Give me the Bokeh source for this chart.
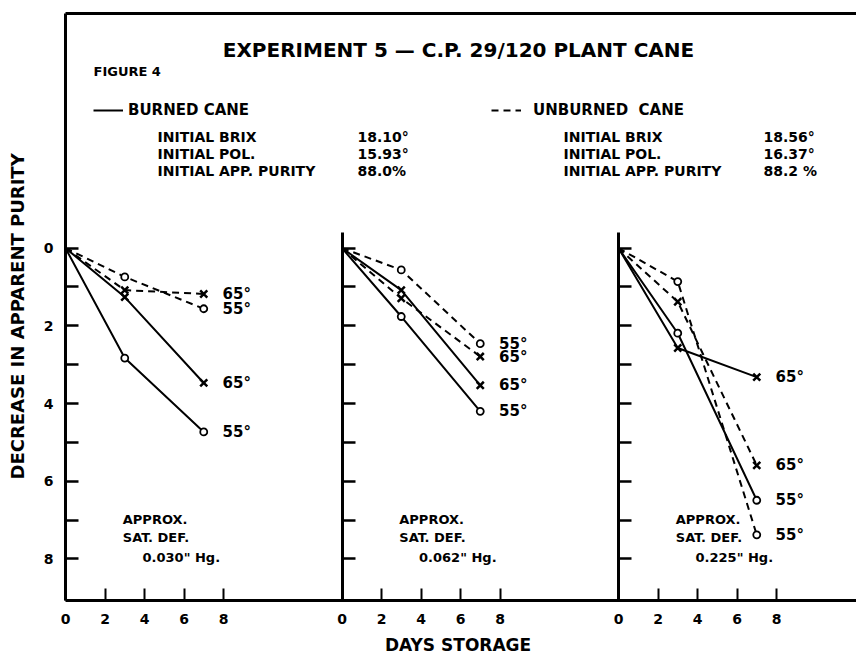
from bokeh.plotting import figure
from bokeh.models import Range1d, LinearAxis, FixedTicker, Legend, LegendItem
from bokeh.core.properties import value
from bokeh.embed import file_html
from bokeh.resources import INLINE

# ---------------- data ----------------
DAYS = [0, 3, 7]
PANEL_SPAN = 14                      # days between panel origins on the shared x scale
X_TICKS = [0, 2, 4, 6, 8]
Y_MAJOR = [0, 2, 4, 6, 8]
Y_MINOR = [1, 3, 5, 7]

# decrease in apparent purity, one list per panel (0.030, 0.062, 0.225 in Hg)
BURNED_55 = [[0, 2.83, 4.73], [0, 1.76, 4.20], [0, 2.19, 6.49]]
BURNED_65 = [[0, 1.26, 3.47], [0, 1.08, 3.53], [0, 2.57, 3.32]]
UNBURNED_55 = [[0, 0.74, 1.56], [0, 0.56, 2.46], [0, 0.86, 7.38]]
UNBURNED_65 = [[0, 1.08, 1.18], [0, 1.29, 2.79], [0, 1.38, 5.59]]
SAT_DEF = ['0.030" Hg.', '0.062" Hg.', '0.225" Hg.']

TITLE = "EXPERIMENT 5 — C.P. 29/120 PLANT CANE"
FIG_LABEL = "FIGURE 4"
INIT_NAMES = ["INITIAL  BRIX", "INITIAL  POL.", "INITIAL  APP. PURITY"]
BURNED_INIT = ["18.10°", "15.93°", "88.0%"]
UNBURNED_INIT = ["18.56°", "16.37°", "88.2 %"]

# ---------------- layout ----------------
FONT = "DejaVu Sans"
W, H = 856, 657
LEFT, TOP, BOTTOM = 65, 13, 56
X_END = 40.05
Y_BOTTOM, Y_TOP = 9.07, -6.04


def px_x(px):
    return (px - LEFT) * X_END / (W - LEFT)


def px_y(py):
    return Y_TOP + (py - TOP) * (Y_BOTTOM - Y_TOP) / (H - TOP - BOTTOM)


p = figure(width=W, height=H, output_backend="svg", toolbar_location=None,
           x_range=Range1d(0, X_END), y_range=Range1d(Y_BOTTOM, Y_TOP),
           x_axis_type=None, y_axis_type=None,
           min_border_left=LEFT, min_border_right=0,
           min_border_top=TOP, min_border_bottom=BOTTOM)
p.outline_line_color = None
p.background_fill_color = "white"
p.border_fill_color = "white"


def style_axis(ax):
    ax.axis_line_width = 3
    ax.axis_line_color = "black"
    ax.major_tick_in = 13
    ax.major_tick_out = 0
    ax.minor_tick_in = 13
    ax.minor_tick_out = 0
    ax.major_tick_line_width = 2.5
    ax.minor_tick_line_width = 2.5
    ax.major_label_text_font = FONT
    ax.major_label_text_font_style = "bold"
    ax.major_label_text_font_size = "14px"
    ax.major_label_text_color = "black"
    ax.axis_label_text_font = FONT
    ax.axis_label_text_font_style = "bold"
    ax.axis_label_text_font_size = "17px"
    ax.axis_label_text_color = "black"


# main y axis (panel 1)
yax = LinearAxis(ticker=FixedTicker(ticks=Y_MAJOR, minor_ticks=Y_MINOR),
                 axis_label="DECREASE  IN  APPARENT  PURITY")
style_axis(yax)
yax.axis_label_text_font_size = "18px"
yax.major_label_standoff = 12
yax.axis_label_standoff = 13
p.add_layout(yax, "left")

# y axes of panels 2 and 3 (no labels)
for k in (1, 2):
    ax = LinearAxis(ticker=FixedTicker(ticks=Y_MAJOR, minor_ticks=Y_MINOR),
                    fixed_location=k * PANEL_SPAN, bounds=(-0.4, Y_BOTTOM))
    style_axis(ax)
    ax.major_label_text_color = None
    p.add_layout(ax, "left")

# top frame line
top = LinearAxis(ticker=FixedTicker(ticks=[]))
style_axis(top)
top.major_tick_in = 0
top.minor_tick_in = 0
p.add_layout(top, "above")

# x axis shared by the three panels
xticks = [k * PANEL_SPAN + t for k in range(3) for t in X_TICKS]
overrides = {k * PANEL_SPAN + t: str(t) for k in (1, 2) for t in X_TICKS}
xax = LinearAxis(ticker=FixedTicker(ticks=xticks), major_label_overrides=overrides,
                 axis_label="DAYS  STORAGE")
style_axis(xax)
xax.major_tick_in = 12
xax.major_tick_line_width = 2
xax.major_label_standoff = 13
xax.axis_label_standoff = 8
p.add_layout(xax, "below")


def txt(x, y, s, size, align="left"):
    p.text(x=[x], y=[y], text=[s], text_font=value(FONT), text_font_style="bold",
           text_font_size=size, text_align=align, text_baseline="middle",
           text_color="black")


# ---------------- series ----------------
legend_refs = {}
for k in range(3):
    xs = [d + k * PANEL_SPAN for d in DAYS]
    for name, series, dash, marker, lab in [
        ("burned", BURNED_55, "solid", "circle", "55°"),
        ("burned", BURNED_65, "solid", "x", "65°"),
        ("unburned", UNBURNED_55, "7 5", "circle", "55°"),
        ("unburned", UNBURNED_65, "7 5", "x", "65°"),
    ]:
        ys = series[k]
        r = p.line(xs, ys, line_color="black", line_width=2, line_dash=dash)
        legend_refs.setdefault(name, r)
        if marker == "circle":
            p.scatter(xs[1:], ys[1:], marker="circle", size=7, fill_color="white",
                      line_color="black", line_width=1.8)
        else:
            p.scatter(xs[1:], ys[1:], marker="x", size=10, line_color="black",
                      line_width=2.5)
        txt(xs[-1] + 0.95, ys[-1], lab, "15px")
    # saturation-deficit note
    txt(k * PANEL_SPAN + 2.9, px_y(520), "APPROX.", "13px")
    txt(k * PANEL_SPAN + 2.9, px_y(538), "SAT. DEF.", "13px")
    txt(k * PANEL_SPAN + 3.9, px_y(558), SAT_DEF[k], "13px")

# ---------------- header ----------------
txt(px_x(458), px_y(50), TITLE, "20px", align="center")
txt(px_x(93), px_y(71), FIG_LABEL, "13px")
for i, name in enumerate(INIT_NAMES):
    yy = px_y(137 + i * 17)
    txt(px_x(157), yy, name, "14px")
    txt(px_x(357), yy, BURNED_INIT[i], "14px")
    txt(px_x(563), yy, name, "14px")
    txt(px_x(763), yy, UNBURNED_INIT[i], "14px")

for lab, key, lx, standoff in [("BURNED CANE", "burned", 28, 5),
                                ("UNBURNED  CANE", "unburned", 426, 12)]:
    leg = Legend(items=[LegendItem(label=lab, renderers=[legend_refs[key]])],
                 location=(lx, 480), padding=0, margin=0, spacing=0,
                 glyph_width=30, glyph_height=20, label_height=20,
                 label_standoff=standoff, border_line_color=None,
                 background_fill_alpha=0, label_text_font=FONT,
                 label_text_font_style="bold", label_text_font_size="15px",
                 label_text_color="black")
    p.add_layout(leg)

open("out.html", "w").write(file_html(p, INLINE))
